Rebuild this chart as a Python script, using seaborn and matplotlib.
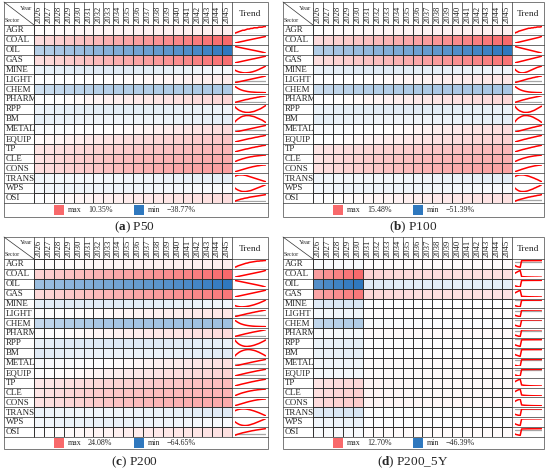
import numpy as np
import pandas as pd
import matplotlib
matplotlib.use("Agg")
import matplotlib.pyplot as plt
import seaborn as sns
from matplotlib.colors import LinearSegmentedColormap, TwoSlopeNorm
from matplotlib.patches import Rectangle

sns.set_theme(style="white")
plt.rcParams['font.family'] = ['Liberation Serif', 'DejaVu Serif']
plt.rcParams['mathtext.fontset'] = 'custom'
plt.rcParams['mathtext.rm'] = 'Liberation Serif'
plt.rcParams['mathtext.bf'] = 'Liberation Serif:bold'

# ---------------- data ----------------
years = list(range(2026, 2046))
sectors = ["AGR", "COAL", "OIL", "GAS", "MINE", "LIGHT", "CHEM", "PHARM", "RPP",
           "BM", "METAL", "EQUIP", "TP", "CLE", "CONS", "TRANS", "WPS", "OSI"]
scenario_names = ["P50", "P100", "P200", "P200_5Y"]
scenario_letters = ["a", "b", "c", "d"]

p50 = [
    [0.1,0.2,0.3,0.4,0.5,0.6,0.6,0.7,0.8,0.8,0.9,0.9,1.0,1.0,1.0,1.1,1.1,1.1,1.2,1.2],
    [2.4,2.9,3.3,3.8,4.2,4.6,5.0,5.5,5.9,6.3,6.7,7.1,7.5,7.9,8.3,8.7,9.1,9.5,9.9,10.35],
    [-13.5,-14.8,-16.1,-17.4,-18.7,-20.0,-21.3,-22.5,-23.8,-25.0,-26.3,-27.5,-28.8,-30.0,-31.3,-32.6,-33.9,-35.2,-36.9,-38.77],
    [2.3,2.7,3.1,3.5,3.9,4.3,4.7,5.1,5.5,5.9,6.3,6.7,7.0,7.4,7.8,8.2,8.6,9.0,9.4,9.8],
    [-3.8,-4.3,-4.7,-5.0,-5.2,-5.4,-5.5,-5.5,-5.4,-5.3,-5.1,-4.9,-4.6,-4.3,-3.9,-3.5,-3.0,-2.6,-2.1,-1.6],
    [-0.6,-0.5,-0.4,-0.3,-0.2,-0.1,0.0,0.1,0.2,0.3,0.4,0.5,0.6,0.7,0.8,0.9,1.0,1.1,1.2,1.3],
    [-9.0,-10.2,-11.1,-11.9,-12.5,-13.0,-13.4,-13.7,-14.0,-14.2,-14.4,-14.5,-14.6,-14.7,-14.8,-14.8,-14.9,-14.9,-15.0,-15.0],
    [-0.4,-0.2,0.0,0.2,0.4,0.6,0.8,1.0,1.1,1.3,1.5,1.6,1.8,1.9,2.1,2.2,2.4,2.5,2.6,2.8],
    [-3.2,-3.7,-4.1,-4.4,-4.6,-4.8,-4.9,-5.0,-5.0,-5.0,-4.9,-4.8,-4.7,-4.5,-4.3,-4.1,-3.9,-3.6,-3.3,-3.0],
    [-4.6,-4.1,-3.7,-3.4,-3.1,-2.9,-2.8,-2.7,-2.7,-2.7,-2.8,-2.9,-3.0,-3.2,-3.4,-3.6,-3.8,-4.0,-4.3,-4.6],
    [-1.4,-1.2,-1.0,-0.8,-0.6,-0.4,-0.2,0.0,0.2,0.4,0.6,0.8,1.0,1.2,1.4,1.6,1.8,2.0,2.2,2.4],
    [0.4,0.6,0.8,1.0,1.2,1.4,1.6,1.8,2.0,2.2,2.3,2.5,2.7,2.9,3.0,3.2,3.4,3.5,3.7,3.9],
    [1.8,2.0,2.2,2.4,2.6,2.8,3.0,3.2,3.3,3.5,3.7,3.9,4.0,4.2,4.3,4.5,4.6,4.8,4.9,5.0],
    [1.9,2.3,2.7,3.0,3.3,3.6,3.8,4.1,4.3,4.5,4.7,4.8,5.0,5.1,5.2,5.3,5.4,5.5,5.6,5.6],
    [2.3,2.5,2.8,3.1,3.4,3.7,4.0,4.3,4.6,4.9,5.1,5.4,5.6,5.8,6.0,6.1,6.3,6.4,6.5,6.5],
    [-2.6,-2.3,-2.1,-2.0,-2.0,-2.0,-2.1,-2.2,-2.4,-2.6,-2.8,-3.0,-3.2,-3.4,-3.6,-3.8,-4.0,-4.2,-4.4,-4.6],
    [-1.8,-2.2,-2.5,-2.7,-2.9,-3.0,-3.0,-3.0,-2.9,-2.8,-2.7,-2.5,-2.3,-2.1,-1.9,-1.7,-1.5,-1.3,-1.1,-0.9],
    [-0.3,0.0,0.2,0.4,0.6,0.7,0.9,1.0,1.1,1.3,1.4,1.5,1.6,1.7,1.8,1.9,2.0,2.1,2.2,2.3],
]

p100 = [
    [0.1,0.3,0.4,0.6,0.7,0.8,0.9,1.0,1.1,1.2,1.3,1.3,1.4,1.4,1.5,1.5,1.6,1.6,1.6,1.7],
    [3.6,4.2,4.8,5.4,6.0,6.6,7.2,7.8,8.4,9.0,9.6,10.2,10.8,11.4,12.0,12.6,13.2,13.8,14.6,15.48],
    [-18.5,-20.3,-22.1,-23.9,-25.6,-27.3,-29.0,-30.7,-32.4,-34.1,-35.8,-37.5,-39.2,-40.9,-42.6,-44.3,-46.0,-47.7,-49.5,-51.39],
    [3.3,3.9,4.5,5.0,5.6,6.2,6.7,7.3,7.9,8.5,9.0,9.6,10.2,10.7,11.3,11.9,12.4,13.0,13.6,14.2],
    [-5.2,-5.9,-6.4,-6.8,-7.0,-7.1,-7.1,-7.0,-6.8,-6.6,-6.3,-6.0,-5.7,-5.4,-5.1,-4.8,-4.5,-4.3,-4.1,-3.9],
    [-0.8,-0.6,-0.4,-0.2,0.0,0.2,0.4,0.6,0.8,1.0,1.2,1.3,1.5,1.7,1.8,2.0,2.1,2.3,2.4,2.5],
    [-12.5,-14.1,-15.4,-16.5,-17.4,-18.1,-18.7,-19.2,-19.6,-19.9,-20.2,-20.4,-20.6,-20.7,-20.8,-20.9,-21.0,-21.0,-21.1,-21.1],
    [-0.6,-0.3,0.0,0.3,0.6,0.9,1.2,1.4,1.7,1.9,2.2,2.4,2.6,2.8,3.0,3.2,3.4,3.6,3.8,4.0],
    [-4.5,-5.2,-5.8,-6.2,-6.5,-6.7,-6.9,-7.0,-7.0,-7.0,-6.9,-6.8,-6.6,-6.4,-6.2,-5.9,-5.6,-5.3,-5.0,-4.7],
    [-6.4,-5.7,-5.1,-4.7,-4.4,-4.1,-3.9,-3.8,-3.8,-3.8,-3.9,-4.0,-4.2,-4.4,-4.7,-5.0,-5.3,-5.6,-6.0,-6.4],
    [-2.0,-1.7,-1.4,-1.1,-0.8,-0.5,-0.2,0.1,0.4,0.7,1.0,1.3,1.6,1.9,2.1,2.4,2.7,2.9,3.2,3.4],
    [-0.4,-0.1,0.2,0.5,0.8,1.1,1.4,1.7,1.9,2.2,2.5,2.7,3.0,3.2,3.5,3.7,4.0,4.2,4.4,4.7],
    [2.5,2.8,3.1,3.4,3.7,4.0,4.3,4.5,4.8,5.0,5.3,5.5,5.8,6.0,6.2,6.5,6.7,6.9,7.1,7.3],
    [2.7,3.3,3.8,4.3,4.7,5.1,5.5,5.8,6.1,6.4,6.7,6.9,7.1,7.3,7.5,7.6,7.8,7.9,8.0,8.1],
    [3.2,3.6,4.0,4.5,4.9,5.4,5.8,6.2,6.6,7.0,7.4,7.7,8.0,8.3,8.6,8.8,9.0,9.2,9.3,9.4],
    [-3.9,-3.5,-3.2,-3.0,-2.9,-2.9,-2.9,-3.0,-3.2,-3.4,-3.6,-3.9,-4.2,-4.5,-4.8,-5.2,-5.5,-5.9,-6.3,-6.7],
    [-2.5,-3.0,-3.4,-3.7,-3.9,-4.0,-4.0,-4.0,-3.9,-3.8,-3.6,-3.4,-3.2,-3.0,-2.7,-2.5,-2.2,-2.0,-1.7,-1.4],
    [-0.5,-0.2,0.1,0.4,0.6,0.8,1.0,1.2,1.4,1.6,1.8,1.9,2.1,2.2,2.4,2.5,2.7,2.8,2.9,3.1],
]

p200 = [
    [0.2,0.4,0.7,0.9,1.1,1.3,1.5,1.7,1.8,2.0,2.1,2.2,2.3,2.4,2.5,2.5,2.6,2.6,2.7,2.7],
    [7.2,8.0,8.9,9.7,10.6,11.4,12.3,13.1,14.0,14.8,15.7,16.5,17.4,18.2,19.1,19.9,20.8,21.7,22.8,24.08],
    [-30.5,-32.1,-33.8,-35.4,-37.1,-38.8,-40.5,-42.2,-43.9,-45.6,-47.3,-49.0,-50.7,-52.4,-54.1,-55.9,-57.7,-59.6,-62.0,-64.65],
    [6.3,7.1,7.9,8.7,9.5,10.3,11.1,11.9,12.7,13.5,14.3,15.1,15.9,16.7,17.5,18.3,19.1,19.9,20.8,21.7],
    [-8.0,-8.4,-8.7,-8.9,-9.0,-9.0,-8.9,-8.8,-8.6,-8.4,-8.1,-7.8,-7.5,-7.1,-6.7,-6.3,-5.8,-5.3,-4.8,-4.2],
    [-1.0,-0.7,-0.4,-0.1,0.2,0.5,0.8,1.1,1.4,1.6,1.9,2.2,2.4,2.7,2.9,3.2,3.4,3.6,3.9,4.1],
    [-18.0,-20.2,-22.0,-23.5,-24.7,-25.6,-26.4,-27.0,-27.5,-27.9,-28.2,-28.5,-28.7,-28.9,-29.0,-29.1,-29.2,-29.3,-29.3,-29.4],
    [-0.8,-0.4,0.0,0.4,0.8,1.2,1.6,2.0,2.3,2.7,3.0,3.4,3.7,4.0,4.3,4.6,4.9,5.2,5.5,5.8],
    [-6.8,-7.8,-8.6,-9.2,-9.6,-9.9,-10.1,-10.2,-10.2,-10.1,-10.0,-9.8,-9.6,-9.3,-9.0,-8.7,-8.3,-7.9,-7.5,-7.0],
    [-9.5,-8.5,-7.7,-7.0,-6.5,-6.1,-5.8,-5.6,-5.5,-5.5,-5.6,-5.8,-6.0,-6.3,-6.7,-7.1,-7.6,-8.1,-8.6,-9.2],
    [-3.0,-2.5,-2.0,-1.6,-1.1,-0.7,-0.2,0.2,0.6,1.0,1.5,1.9,2.3,2.7,3.1,3.5,3.9,4.2,4.6,5.0],
    [-0.8,-0.3,0.2,0.7,1.1,1.6,2.0,2.5,2.9,3.3,3.7,4.1,4.5,4.9,5.3,5.6,6.0,6.3,6.7,7.0],
    [3.6,4.0,4.5,4.9,5.4,5.8,6.2,6.6,7.0,7.4,7.8,8.2,8.5,8.9,9.2,9.6,9.9,10.2,10.5,10.8],
    [4.0,4.8,5.6,6.3,7.0,7.6,8.1,8.6,9.1,9.5,9.9,10.2,10.6,10.8,11.1,11.3,11.5,11.7,11.8,11.9],
    [4.6,5.2,5.8,6.5,7.1,7.8,8.4,9.1,9.7,10.3,10.8,11.3,11.8,12.2,12.6,12.9,13.2,13.4,13.6,13.7],
    [-6.0,-5.4,-4.9,-4.6,-4.4,-4.3,-4.3,-4.4,-4.6,-4.9,-5.2,-5.6,-6.0,-6.5,-7.0,-7.5,-8.1,-8.7,-9.3,-9.9],
    [-3.8,-4.5,-5.1,-5.6,-5.9,-6.1,-6.2,-6.2,-6.1,-5.9,-5.6,-5.3,-5.0,-4.6,-4.2,-3.8,-3.4,-3.0,-2.6,-2.2],
    [-0.8,-0.3,0.2,0.6,1.0,1.4,1.7,2.0,2.3,2.6,2.9,3.2,3.4,3.7,3.9,4.1,4.3,4.5,4.7,4.9],
]

p200_5y = [
    [-1.2,-1.5,-1.7,-1.8,-1.9,0.28,0.29,0.30,0.30,0.31,0.31,0.31,0.32,0.32,0.32,0.32,0.33,0.33,0.33,0.33],
    [8.2,9.4,10.6,11.7,12.7,3.6,3.4,3.2,3.1,3.0,2.9,2.9,2.8,2.8,2.7,2.7,2.7,2.6,2.6,2.6],
    [-38.0,-40.5,-42.6,-44.6,-46.39,-6.5,-6.3,-6.2,-6.1,-6.0,-5.9,-5.9,-5.8,-5.8,-5.7,-5.7,-5.7,-5.6,-5.6,-5.6],
    [7.6,8.6,9.6,10.6,11.5,3.3,3.1,3.0,2.9,2.8,2.7,2.7,2.6,2.6,2.5,2.5,2.5,2.4,2.4,2.4],
    [-6.8,-7.4,-7.9,-8.3,-8.6,-0.42,-0.40,-0.36,-0.33,-0.31,-0.29,-0.27,-0.25,-0.24,-0.23,-0.22,-0.21,-0.20,-0.20,-0.19],
    [-2.4,-2.7,-2.9,-3.1,-3.3,0.18,0.20,0.22,0.23,0.24,0.25,0.26,0.26,0.27,0.27,0.28,0.28,0.28,0.29,0.29],
    [-13.5,-14.8,-15.9,-16.8,-17.6,-1.25,-1.18,-1.12,-1.08,-1.04,-1.01,-0.99,-0.97,-0.95,-0.94,-0.93,-0.92,-0.91,-0.90,-0.90],
    [-1.6,-1.8,-2.0,-2.2,-2.3,0.45,0.47,0.49,0.50,0.51,0.52,0.53,0.53,0.54,0.54,0.55,0.55,0.55,0.56,0.56],
    [-4.2,-4.6,-5.0,-5.3,-5.6,-0.34,-0.32,-0.30,-0.28,-0.27,-0.26,-0.25,-0.24,-0.23,-0.23,-0.22,-0.22,-0.21,-0.21,-0.21],
    [-4.0,-4.5,-4.9,-5.3,-5.6,-0.25,-0.23,-0.21,-0.20,-0.19,-0.18,-0.18,-0.17,-0.17,-0.16,-0.16,-0.16,-0.15,-0.15,-0.15],
    [-2.8,-3.0,-3.2,-3.3,-3.4,0.26,0.28,0.30,0.31,0.32,0.33,0.33,0.34,0.34,0.35,0.35,0.35,0.36,0.36,0.36],
    [-2.0,-2.2,-2.4,-2.5,-2.6,0.35,0.38,0.40,0.41,0.42,0.43,0.44,0.44,0.45,0.45,0.46,0.46,0.46,0.47,0.47],
    [2.2,2.6,2.9,3.2,3.4,0.90,0.80,0.72,0.66,0.61,0.57,0.54,0.52,0.50,0.48,0.47,0.46,0.45,0.44,0.44],
    [2.6,3.0,3.4,3.7,4.0,0.95,0.85,0.77,0.71,0.66,0.62,0.59,0.57,0.55,0.53,0.52,0.51,0.50,0.49,0.49],
    [2.9,3.4,3.8,4.1,4.4,1.05,0.94,0.86,0.80,0.75,0.71,0.68,0.65,0.63,0.61,0.60,0.59,0.58,0.57,0.57],
    [-7.0,-7.6,-8.1,-8.5,-8.9,-0.62,-0.58,-0.55,-0.52,-0.50,-0.48,-0.47,-0.46,-0.45,-0.44,-0.44,-0.43,-0.43,-0.42,-0.42],
    [-3.2,-3.6,-3.9,-4.2,-4.4,-0.31,-0.29,-0.27,-0.26,-0.25,-0.24,-0.23,-0.23,-0.22,-0.22,-0.21,-0.21,-0.21,-0.20,-0.20],
    [-1.2,-1.4,-1.5,-1.6,-1.7,0.28,0.30,0.31,0.32,0.33,0.34,0.34,0.35,0.35,0.36,0.36,0.36,0.37,0.37,0.37],
]
scenario_values = [p50, p100, p200, p200_5y]

# ---------------- layout (pixels) ----------------
W, HP = 550, 472
geom = [
    dict(L=4, R=268, T=2, H=25, B=203, LB=217, S=34, Y=232, cx=134, cy=227),
    dict(L=283, R=544, T=2, H=25, B=203, LB=217, S=313, Y=512, cx=413, cy=227),
    dict(L=4, R=268, T=237, H=259, B=437, LB=449, S=34, Y=232, cx=134, cy=462),
    dict(L=283, R=544, T=237, H=259, B=437, LB=449, S=313, Y=512, cx=413, cy=462),
]

RED = "#F8696B"
BLUE = "#2F78BE"
GRID = "#333333"
cmap = LinearSegmentedColormap.from_list("rwb", [BLUE, "#FFFFFF", RED])


def frac(x0, y0, x1, y1):
    return [x0 / W, 1 - y1 / HP, (x1 - x0) / W, (y1 - y0) / HP]


def fmt(v):
    return f"{v:.2f}%".replace("-", "\u2212")


fig = plt.figure(figsize=(W / 100, HP / 100), dpi=100)
fig.patch.set_facecolor("white")
bg = fig.add_axes([0, 0, 1, 1])
bg.set_xlim(0, W)
bg.set_ylim(HP, 0)
bg.axis("off")

for k, g in enumerate(geom):
    df = pd.DataFrame(scenario_values[k], index=sectors, columns=years)
    vmax = float(df.values.max())
    vmin = float(df.values.min())
    norm = TwoSlopeNorm(vmin=vmin, vcenter=0.0, vmax=vmax)
    L, R, T, Hh, B, LB, S, Yc = g["L"], g["R"], g["T"], g["H"], g["B"], g["LB"], g["S"], g["Y"]
    nr, nc = len(sectors), len(years)
    rh = (B - Hh) / nr
    cw = (Yc - S) / nc

    # table frame and grid
    bg.add_patch(Rectangle((L, T), R - L, LB - T, fill=False, ec="#7a7a7a", lw=0.7))
    for i in range(nr + 1):
        bg.plot([L, R], [Hh + i * rh] * 2, color=GRID, lw=0.5)
    for x in (S, Yc):
        bg.plot([x, x], [T, B], color=GRID, lw=0.5)
    for j in range(1, nc):
        bg.plot([S + j * cw] * 2, [T, Hh], color=GRID, lw=0.5)
    bg.plot([L, S], [T, Hh], color=GRID, lw=0.5)

    # header texts
    bg.text(S - 1.5, T + 6, "Year", ha="right", va="center", fontsize=4.8)
    bg.text(L + 0.8, Hh - 4, "Sector", ha="left", va="center", fontsize=4.2)
    for j, yr in enumerate(years):
        bg.text(S + (j + 0.5) * cw, (T + Hh) / 2 + 0.5, str(yr), rotation=90,
                ha="center", va="center", fontsize=6.2)
    bg.text((Yc + R) / 2, (T + Hh) / 2 + 1, "Trend", ha="center", va="center", fontsize=6.8)
    for i, s in enumerate(sectors):
        bg.text(L + 1.5, Hh + (i + 0.5) * rh + 0.3, s, ha="left", va="center", fontsize=6.4)

    # heatmap cells
    hax = fig.add_axes(frac(S, Hh, Yc, B))
    sns.heatmap(df, ax=hax, cmap=cmap, norm=norm, cbar=False, linewidths=0.5,
                linecolor=GRID, xticklabels=False, yticklabels=False)
    hax.set_xlabel("")
    hax.set_ylabel("")

    # trend sparklines
    for i, s in enumerate(sectors):
        top = Hh + i * rh
        sax = fig.add_axes(frac(Yc + 2.5, top + 1.3, R - 2.5, top + rh - 1.3))
        vals = df.loc[s].values
        lo, hi = vals.min(), vals.max()
        pad = (hi - lo) * 0.04
        sax.axhline(0, color="#A6A6A6", lw=0.9, zorder=0)
        sns.lineplot(x=years, y=vals, ax=sax, color="#FF0000", lw=1.1)
        sax.set_ylim(lo - pad, hi + pad)
        sax.set_xlim(years[0], years[-1])
        sax.axis("off")

    # legend row
    ym = (B + LB) / 2
    bg.add_patch(Rectangle((L + 49.5, ym - 4.8), 10, 9.6, fc=cmap(norm(vmax)), ec="none"))
    bg.text(L + 64, ym + 0.3, "max", ha="left", va="center", fontsize=5.8)
    bg.text(L + 84, ym + 0.3, fmt(vmax), ha="left", va="center", fontsize=5.8)
    bg.add_patch(Rectangle((L + 129.5, ym - 4.8), 10, 9.6, fc=cmap(norm(vmin)), ec="none"))
    bg.text(L + 144, ym + 0.3, "min", ha="left", va="center", fontsize=5.8)
    bg.text(L + 163, ym + 0.3, fmt(vmin), ha="left", va="center", fontsize=5.8)

    # caption
    bg.text(g["cx"], g["cy"], rf"($\mathbf{{{scenario_letters[k]}}}$) {scenario_names[k]}",
            ha="center", va="center", fontsize=9.5)

fig.savefig("out.png", dpi=100, facecolor="white")
